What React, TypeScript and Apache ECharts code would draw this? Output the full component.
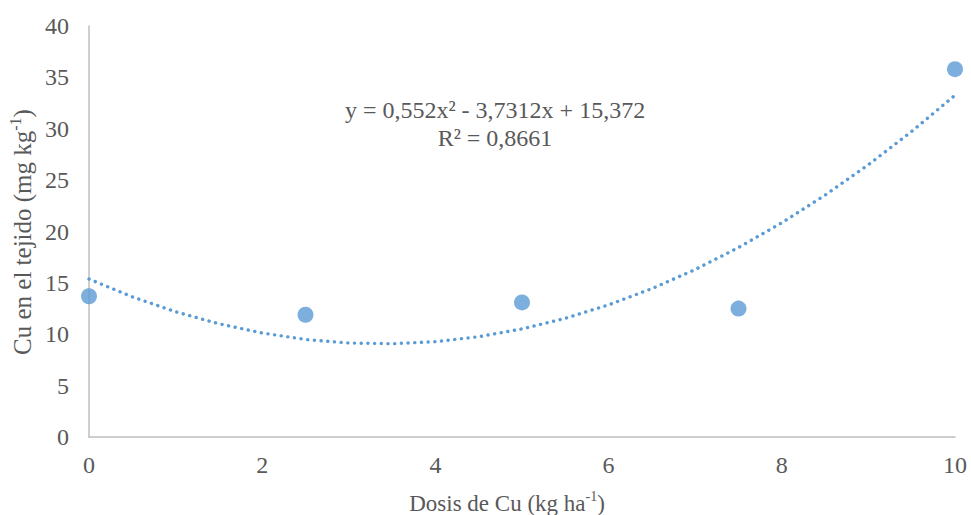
import React, { useEffect, useRef } from "react";
import * as echarts from "echarts";

const doses = [0, 2.5, 5, 7.5, 10];
const cuValues = [13.7, 11.9, 13.1, 12.5, 35.8];
const trendX = [0, 0.5, 1, 1.5, 2, 2.5, 3, 3.5, 4, 4.5, 5, 5.5, 6, 6.5, 7, 7.5, 8, 8.5, 9, 9.5, 10];
const trendY = [15.37, 13.64, 12.19, 11.02, 10.12, 9.49, 9.15, 9.08, 9.28, 9.76, 10.52, 11.55, 12.86, 14.44, 16.3, 18.44, 20.85, 23.54, 26.5, 29.74, 33.26];
const xTicks = [0, 2, 4, 6, 8, 10];
const yTicks = [0, 5, 10, 15, 20, 25, 30, 35, 40];
const xTitle = "{n|Dosis de Cu (kg ha}{s|-1}{n|)}";
const yTitle = "{n|Cu en el tejido (mg kg}{s|-1}{n|)}";
const eqLine = "y = 0,552x² - 3,7312x + 15,372";
const r2Line = "R² = 0,8661";

const FONT = "Times New Roman";
const TXT = "#595959";
const BLUE = "#5b9bd5";

function richFor(size: number) {
  return {
    n: { fontFamily: FONT, fontSize: size, fill: TXT, color: TXT, lineHeight: size + 4 },
    s: {
      fontFamily: FONT,
      fontSize: Math.round(size * 0.62),
      fill: TXT,
      color: TXT,
      lineHeight: size + 4,
      verticalAlign: "top",
      padding: [0, 0, Math.round(size * 0.38), 0],
    },
  };
}

export default function App() {
  const ref = useRef<HTMLDivElement>(null);
  useEffect(() => {
    document.body.style.margin = "0";
    const chart = echarts.init(ref.current!, null, { renderer: "svg" });
    chart.setOption({
      animation: false,
      backgroundColor: "#ffffff",
      textStyle: { fontFamily: FONT, color: TXT },
      grid: { left: 89, right: 16, top: 26, bottom: 78, containLabel: false, outerBoundsMode: "none" },
      xAxis: {
        type: "value",
        min: xTicks[0],
        max: xTicks[xTicks.length - 1],
        interval: 2,
        axisLine: { show: true, lineStyle: { color: "#bfbfbf", width: 1.5 } },
        axisTick: { show: false },
        splitLine: { show: false },
        axisLabel: { fontFamily: FONT, fontSize: 24, color: TXT, margin: 16 },
      },
      yAxis: {
        type: "value",
        min: yTicks[0],
        max: yTicks[yTicks.length - 1],
        interval: 5,
        axisLine: { show: true, lineStyle: { color: "#bfbfbf", width: 1.5 } },
        axisTick: { show: false },
        splitLine: { show: false },
        axisLabel: { fontFamily: FONT, fontSize: 24, color: TXT, margin: 20 },
      },
      series: [
        {
          type: "line",
          data: trendX.map((x, i) => [x, trendY[i]]),
          smooth: false,
          symbol: "none",
          lineStyle: { color: BLUE, width: 3.4, type: [0.1, 6.6], cap: "round" },
          z: 2,
        },
        {
          type: "scatter",
          data: doses.map((x, i) => [x, cuValues[i]]),
          symbolSize: 16,
          itemStyle: { color: BLUE },
          z: 3,
        },
      ],
      graphic: [
        {
          type: "text",
          x: 495,
          y: 110,
          style: { text: eqLine, fontFamily: FONT, fontSize: 24, fill: TXT, align: "center", verticalAlign: "middle" },
        },
        {
          type: "text",
          x: 495,
          y: 138,
          style: { text: r2Line, fontFamily: FONT, fontSize: 24, fill: TXT, align: "center", verticalAlign: "middle" },
        },
        {
          type: "text",
          x: 507,
          y: 503,
          style: { text: xTitle, rich: richFor(23), fill: TXT, align: "center", verticalAlign: "middle" },
        },
        {
          type: "text",
          x: 22,
          y: 232,
          rotation: Math.PI / 2,
          style: { text: yTitle, rich: richFor(25), fill: TXT, align: "center", verticalAlign: "middle" },
        },
      ],
    });
    return () => chart.dispose();
  }, []);
  return <div ref={ref} style={{ width: 971, height: 515 }} />;
}
